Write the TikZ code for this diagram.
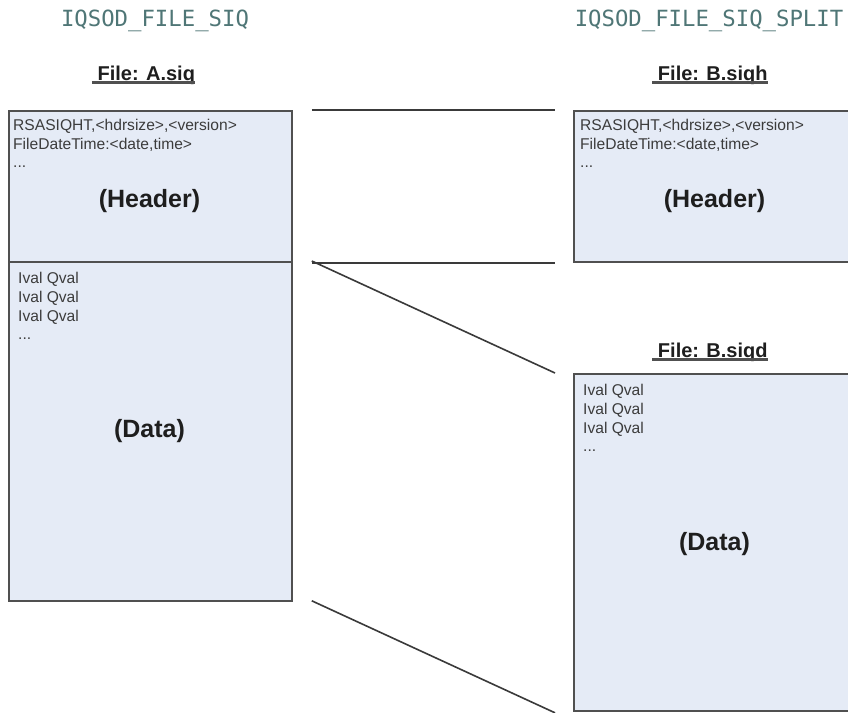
\documentclass[tikz,border=0pt]{standalone}
\usepackage{fontspec}
\setmainfont{Liberation Sans}
\newfontfamily\codefont{DejaVu Sans Mono}
\usetikzlibrary{calc}
\definecolor{boxfill}{HTML}{E5EBF6}
\definecolor{boxline}{HTML}{505050}
\definecolor{codecol}{HTML}{4F7676}
\definecolor{txt}{HTML}{3C3C3C}
\definecolor{ink}{HTML}{1E1E1E}
\definecolor{wirecol}{HTML}{3A3A3A}

\begin{document}
\begin{tikzpicture}[x=1pt,y=-1pt,
  fbox/.style={draw=boxline, line width=1.8pt, fill=boxfill, rectangle,
    inner sep=0pt, anchor=north west, minimum width=283pt},
  small/.style={font=\fontsize{15.6}{18}\selectfont, text=txt, anchor=base west, inner sep=0pt},
  big/.style={font=\fontsize{25}{28}\selectfont\bfseries, text=ink, anchor=base, inner sep=0pt},
  code/.style={font=\codefont\fontsize{22.3}{24}\selectfont, text=codecol, anchor=base, inner sep=0pt},
  fname/.style={font=\fontsize{20}{24}\selectfont\bfseries, text=ink, anchor=base, inner sep=0pt},
  uline/.style={draw=boxline, line width=2.5pt},
  wire/.style={draw=wirecol, line width=1.6pt}]

\clip (0,0) rectangle (848,712);
\fill[white] (0,0) rectangle (848,712);

% file boxes
\node[fbox, minimum height=151pt] (hdrA) at (8,110) {};
\node[fbox, minimum height=339pt] (datA) at (8,261) {};
\node[fbox, minimum height=151pt] (hdrB) at (573,110) {};
\node[fbox, minimum height=337pt] (datB) at (573,373) {};

% format titles
\node[code] (tA) at (155,27) {IQSOD\_FILE\_SIQ};
\node[code] (tB) at (709,27) {IQSOD\_FILE\_SIQ\_SPLIT};

% file names
\node[fname] (fA) at (143.5,80) {\ File: A.siq};
\node[fname] (fB) at (710,80) {\ File: B.siqh};
\node[fname] (fC) at (710,357) {\ File: B.siqd};
\foreach \f in {fA,fB,fC}
  \draw[uline] ($(\f.base west)+(0,2.5)$) -- ($(\f.base east)+(0,2.5)$);

% single file contents
\node[small] (a1) at (13,130) {RSASIQHT,<hdrsize>,<version>};
\node[small] (a2) at (13,149) {FileDateTime:<date,time>};
\node[small] (a3) at (13,167) {...};
\node[big] (aH) at (149.5,207) {(Header)};
\node[small] (d1) at (18,283) {Ival Qval};
\node[small] (d2) at (18,302) {Ival Qval};
\node[small] (d3) at (18,321) {Ival Qval};
\node[small] (d4) at (18,339) {...};
\node[big] (aD) at (149.5,437) {(Data)};

% split file contents
\node[small] (b1) at (580,130) {RSASIQHT,<hdrsize>,<version>};
\node[small] (b2) at (580,149) {FileDateTime:<date,time>};
\node[small] (b3) at (580,167) {...};
\node[big] (bH) at (714.5,207) {(Header)};
\node[small] (e1) at (583,395) {Ival Qval};
\node[small] (e2) at (583,414) {Ival Qval};
\node[small] (e3) at (583,433) {Ival Qval};
\node[small] (e4) at (583,451) {...};
\node[big] (bD) at (714.5,550) {(Data)};

% correspondence lines
\draw[wire] ($(hdrA.north east)+(19,0)$) -- ($(hdrB.north west)+(-18,0)$);
\draw[wire] ($(hdrA.south east)+(19,0)$) -- ($(hdrB.south west)+(-18,0)$);
\draw[wire] ($(datA.north east)+(19,0)$) -- ($(datB.north west)+(-18,0)$);
\draw[wire] ($(datA.south east)+(19,-1)$) -- ($(datB.south west)+(-18,1)$);
\end{tikzpicture}
\end{document}
